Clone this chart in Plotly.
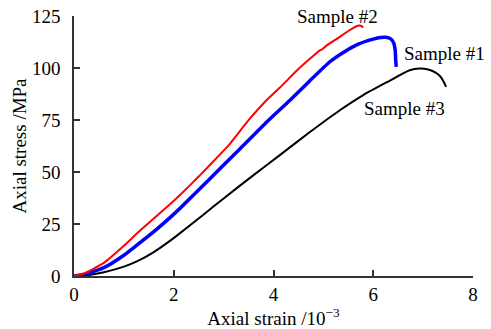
import plotly.graph_objects as go

# Sample #1 (blue)
s1_strain = [0, 0.2, 0.6, 1.0, 1.26, 1.6, 1.93, 2.12, 2.7, 3.33, 3.9, 4.33, 4.7, 5.13, 5.4, 5.7, 6.0, 6.15, 6.25, 6.35, 6.41, 6.44, 6.45, 6.46]
s1_stress = [0, 0.8, 4.0, 10.0, 14.8, 21.3, 28.2, 32.4, 46.2, 61.2, 74.9, 84.5, 93.2, 103.0, 107.5, 111.5, 113.9, 114.7, 114.8, 114.0, 112.0, 108.5, 104.0, 100.5]

# Sample #2 (red)
s2_strain = [0, 0.2, 0.6, 1.0, 1.26, 1.6, 1.93, 2.12, 2.5, 3.0, 3.1, 3.5, 3.86, 4.13, 4.5, 4.93, 4.98, 5.05, 5.3, 5.5, 5.69, 5.75, 5.8]
s2_stress = [0, 1.2, 6.3, 14.5, 20.4, 27.6, 34.6, 38.8, 47.8, 60.3, 62.8, 74.9, 84.5, 90.6, 99.5, 108.5, 109.0, 110.5, 114.5, 117.8, 120.3, 120.3, 119.5]

# Sample #3 (black)
s3_strain = [0, 0.3, 0.6, 1.0, 1.26, 1.6, 1.93, 2.12, 2.6, 3.0, 3.6, 4.12, 4.73, 5.33, 5.8, 6.3, 6.73, 6.93, 7.1, 7.25, 7.35, 7.42, 7.46]
s3_stress = [0, 0.5, 1.8, 4.5, 7.0, 11.5, 17.0, 20.5, 29.6, 37.3, 48.5, 58.0, 69.2, 79.7, 87.0, 93.5, 98.9, 99.7, 99.3, 97.8, 95.8, 93.0, 90.9]

x_ticks = [0, 2, 4, 6, 8]
y_ticks = [0, 25, 50, 75, 100, 125]

labels = ["Sample #2", "Sample #1", "Sample #3"]
label_x = [5.29, 7.43, 6.63]
label_y = [124.6, 107.0, 80.6]

FONT = "Liberation Serif"
FS = 19

fig = go.Figure()
fig.add_trace(go.Scatter(x=s3_strain, y=s3_stress, mode="lines",
                         line=dict(color="black", width=2, shape="spline", smoothing=0.6),
                         showlegend=False, hoverinfo="skip"))
fig.add_trace(go.Scatter(x=s1_strain, y=s1_stress, mode="lines",
                         line=dict(color="#0000ff", width=3.5, shape="spline", smoothing=0.5),
                         showlegend=False, hoverinfo="skip"))
fig.add_trace(go.Scatter(x=s2_strain, y=s2_stress, mode="lines",
                         line=dict(color="#ff0000", width=2, shape="spline", smoothing=0.4),
                         showlegend=False, hoverinfo="skip"))

for t, xx, yy in zip(labels, label_x, label_y):
    fig.add_annotation(x=xx, y=yy, xref="x", yref="y", text=t, showarrow=False,
                       xanchor="center", yanchor="middle",
                       font=dict(family=FONT, size=FS, color="black"))

fig.update_xaxes(range=[0, 8], tickvals=x_ticks, ticktext=[str(v) for v in x_ticks],
                 ticks="inside", ticklen=6, tickwidth=1.5, tickcolor="#333",
                 showline=True, linecolor="#333", linewidth=1.5,
                 showgrid=False, zeroline=False,
                 tickfont=dict(family=FONT, size=FS, color="black"),
                 title=dict(text="Axial strain /10<sup>−3</sup>", standoff=2,
                            font=dict(family=FONT, size=FS, color="black")))
fig.update_yaxes(range=[0, 125], tickvals=y_ticks, ticktext=[str(v) for v in y_ticks],
                 ticks="inside", ticklen=6, tickwidth=1.5, tickcolor="#333",
                 showline=True, linecolor="#333", linewidth=1.5,
                 showgrid=False, zeroline=False, ticklabelstandoff=8,
                 tickfont=dict(family=FONT, size=FS, color="black"),
                 title=dict(text="Axial stress /MPa", standoff=0,
                            font=dict(family=FONT, size=FS, color="black")))

fig.update_layout(width=491, height=329,
                  margin=dict(l=73.5, r=17.5, t=15.7, b=53.3, autoexpand=False),
                  paper_bgcolor="white", plot_bgcolor="white",
                  font=dict(family=FONT, size=FS, color="black"))

fig.write_html("out.html", config={"displayModeBar": False},
               post_script="document.body.style.margin='0';document.body.style.padding='0';document.body.style.overflow='hidden';")
